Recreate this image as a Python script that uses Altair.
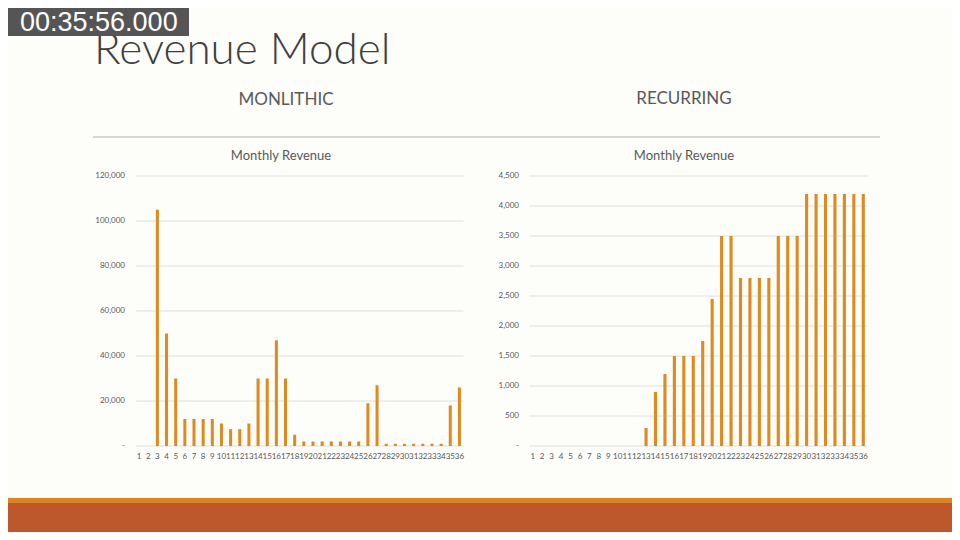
import altair as alt
import pandas as pd

# ---- data ----
months = list(range(1, 37))
monolithic = [0, 0, 105000, 50000, 30000, 12000, 12000, 12000, 12000, 10000,
              7500, 7500, 10000, 30000, 30000, 47000, 30000, 5000, 2000, 2000,
              2000, 2000, 2000, 2000, 2000, 19000, 27000, 1000, 1000, 1000,
              1000, 1000, 1000, 1000, 18000, 26000]
recurring = [0, 0, 0, 0, 0, 0, 0, 0, 0, 0, 0, 0, 300, 900, 1200, 1500, 1500,
             1500, 1750, 2450, 3500, 3500, 2800, 2800, 2800, 2800, 3500, 3500,
             3500, 4200, 4200, 4200, 4200, 4200, 4200, 4200]
mono_ticks = [0, 20000, 40000, 60000, 80000, 100000, 120000]
mono_tick_labels = ["-", "20,000", "40,000", "60,000", "80,000", "100,000", "120,000"]
rec_ticks = [0, 500, 1000, 1500, 2000, 2500, 3000, 3500, 4000, 4500]
rec_tick_labels = ["-", "500", "1,000", "1,500", "2,000", "2,500", "3,000", "3,500",
                   "4,000", "4,500"]

TIMESTAMP = "00:35:56.000"
TITLE = "Revenue Model"
SUB_LEFT = "MONLITHIC"
SUB_RIGHT = "RECURRING"
CHART_TITLE = "Monthly Revenue"

BAR = "#E08A1E"
GRID = "#DEDEDE"
TXT = "#595959"
BG = "#FDFDF9"

mono_df = pd.DataFrame({"month": months, "revenue": monolithic})
rec_df = pd.DataFrame({"month": months, "revenue": recurring})
mono_ticks_df = pd.DataFrame({"tick": mono_ticks, "label": mono_tick_labels})
rec_ticks_df = pd.DataFrame({"tick": rec_ticks, "label": rec_tick_labels})

one = alt.Data(values=[{}])


def xaxis():
    return alt.Axis(orient="bottom", offset=-86, labelAngle=0, ticks=False, tickSize=0,
                    domain=False, grid=False, labelPadding=6, labelFontSize=8,
                    labelColor=TXT, labelFont="Lato", title=None,
                    labelOverlap=False, labelFlush=False)


def panel(df, ticks_df, ymax, xr, label_x):
    yscale = alt.Scale(domain=[0, ymax], range=[438, 168], nice=False, zero=True)
    grid = alt.Chart(ticks_df).mark_rule(color=GRID, strokeWidth=1).encode(
        y=alt.Y("tick:Q", scale=yscale, axis=None),
        x=alt.value(xr[0] + 1.5), x2=alt.value(xr[1] - 0.5),
    )
    labels = alt.Chart(ticks_df).mark_text(align="right", baseline="middle", fontSize=8,
                                           font="Lato", color=TXT).encode(
        y=alt.Y("tick:Q", scale=yscale, axis=None),
        x=alt.value(label_x),
        text="label:N",
    )
    bars = alt.Chart(df).mark_bar(color=BAR).encode(
        x=alt.X("month:O", scale=alt.Scale(range=xr, paddingInner=0.67, paddingOuter=0.335),
                axis=xaxis()),
        y=alt.Y("revenue:Q", scale=yscale, axis=None),
    )
    return alt.layer(grid, labels, bars)


left = panel(mono_df, mono_ticks_df, 120000, [126.5, 456], 117)
right = panel(rec_df, rec_ticks_df, 4500, [520, 860], 511)

ts_rect = alt.Chart(one).mark_rect(color="#555555").encode(
    x=alt.value(0), x2=alt.value(181), y=alt.value(0), y2=alt.value(28))
ts_text = alt.Chart(one).mark_text(align="left", baseline="alphabetic", fontSize=27,
                                   font="Liberation Sans", color="white").encode(
    x=alt.value(12), y=alt.value(23), text=alt.value(TIMESTAMP))
title = alt.Chart(one).mark_text(align="left", baseline="alphabetic", fontSize=44,
                                 font="Lato", fontWeight=300, color="#404040").encode(
    x=alt.value(86), y=alt.value(56), text=alt.value(TITLE))
sub_l = alt.Chart(one).mark_text(align="center", baseline="middle", fontSize=17,
                                 font="Lato", color=TXT).encode(
    x=alt.value(278), y=alt.value(92), text=alt.value(SUB_LEFT))
sub_r = alt.Chart(one).mark_text(align="center", baseline="middle", fontSize=17,
                                 font="Lato", color=TXT).encode(
    x=alt.value(676), y=alt.value(91), text=alt.value(SUB_RIGHT))
divider = alt.Chart(one).mark_rule(color="#C9C9C9", strokeWidth=1.5).encode(
    x=alt.value(85), x2=alt.value(872), y=alt.value(129))
ct_l = alt.Chart(one).mark_text(align="center", baseline="middle", fontSize=13,
                                font="Lato", color=TXT).encode(
    x=alt.value(273), y=alt.value(148), text=alt.value(CHART_TITLE))
ct_r = alt.Chart(one).mark_text(align="center", baseline="middle", fontSize=13,
                                font="Lato", color=TXT).encode(
    x=alt.value(676), y=alt.value(148), text=alt.value(CHART_TITLE))
band_o = alt.Chart(one).mark_rect(color="#DD8420").encode(
    x=alt.value(0), x2=alt.value(944), y=alt.value(490), y2=alt.value(495))
band_r = alt.Chart(one).mark_rect(color="#BD582C").encode(
    x=alt.value(0), x2=alt.value(944), y=alt.value(495), y2=alt.value(524))

chart = alt.layer(
    band_o, band_r, divider, title, ts_rect, ts_text, sub_l, sub_r, ct_l, ct_r, left, right
).resolve_scale(x="independent", y="independent").properties(
    width=944, height=524, autosize=alt.AutoSizeParams(type="none"), padding=0,
    background=BG,
).configure_view(stroke=None)

chart.save("out.html", embed_options={"renderer": "svg", "actions": False})
